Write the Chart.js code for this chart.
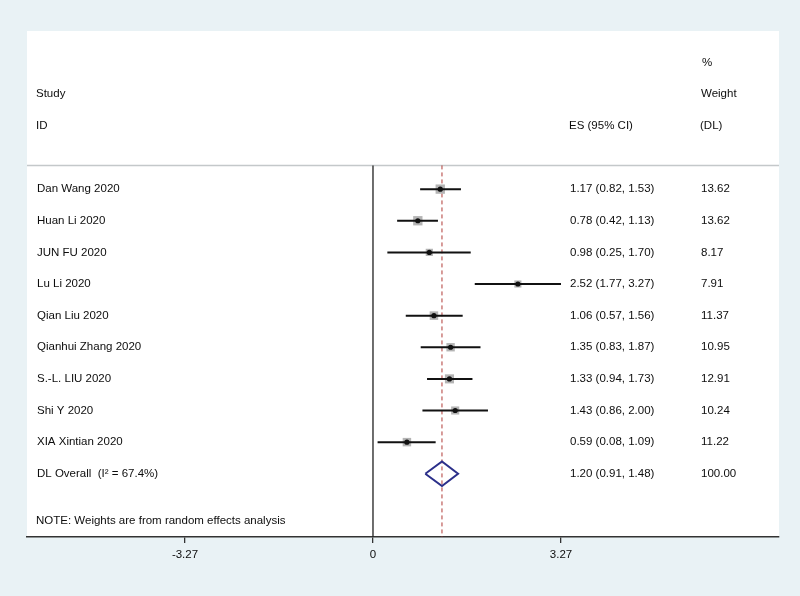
<!DOCTYPE html>
<html>
<head>
<meta charset="utf-8">
<script src="https://cdn.jsdelivr.net/npm/chart.js@4/dist/chart.umd.min.js"></script>
<style>
  html, body { margin: 0; padding: 0; background: #e9f2f5; }
</style>
</head>
<body>
<canvas id="forestChart" width="800" height="596"></canvas>
<script>
// Study data
const studies = ['Dan Wang 2020', 'Huan Li 2020', 'JUN FU 2020', 'Lu Li 2020', 'Qian Liu 2020',
    'Qianhui Zhang 2020', 'S.-L. LIU 2020', 'Shi Y 2020', 'XIA Xintian 2020'];
const es = [1.17, 0.78, 0.98, 2.52, 1.06, 1.35, 1.33, 1.43, 0.59];
const lower = [0.82, 0.42, 0.25, 1.77, 0.57, 0.83, 0.94, 0.86, 0.08];
const upper = [1.53, 1.13, 1.70, 3.27, 1.56, 1.87, 1.73, 2.00, 1.09];
const weights = [13.62, 13.62, 8.17, 7.91, 11.37, 10.95, 12.91, 10.24, 11.22];

// Pooled estimate
const overallLabel = 'DL Overall  (I\u00B2 = 67.4%)';
const overallEs = 1.20;
const overallLower = 0.91;
const overallUpper = 1.48;
const overallWeight = 100.00;

// Axis ticks
const tickValues = [-3.27, 0, 3.27];
const tickLabels = ['-3.27', '0', '3.27'];

const noteText = 'NOTE: Weights are from random effects analysis';

const overallRow = studies.length;
const yTop = -5, yBottom = 11, headerLine = -0.75;
const font = '11.5px "Liberation Sans", Arial, sans-serif';

function fmt(v) { return v.toFixed(2); }

// one dataset per CI line
let ciSets = studies.map((s, i) => ({
    data: [{ x: lower[i], y: i }, { x: upper[i], y: i }],
    showLine: true,
    borderColor: '#111',
    borderWidth: 2,
    pointRadius: 0,
    order: 3
}));

let datasets = ciSets.concat([
    {
        // weight boxes
        data: es.map((v, i) => ({ x: v, y: i })),
        pointStyle: 'rect',
        pointRadius: ctx => 6.6 * Math.sqrt(weights[ctx.dataIndex] / 13.62),
        backgroundColor: '#b4b4b4',
        borderWidth: 0,
        order: 4
    },
    {
        // point estimates
        data: es.map((v, i) => ({ x: v, y: i })),
        pointStyle: 'circle',
        pointRadius: 2.6,
        backgroundColor: '#111',
        borderWidth: 0,
        order: 1
    },
    {
        // pooled diamond
        data: [
            { x: overallLower, y: overallRow },
            { x: overallEs, y: overallRow - 0.39 },
            { x: overallUpper, y: overallRow },
            { x: overallEs, y: overallRow + 0.39 },
            { x: overallLower, y: overallRow }
        ],
        showLine: true,
        borderColor: '#2b2f8a',
        borderWidth: 2,
        borderJoinStyle: 'miter',
        pointRadius: 0,
        order: 0
    },
    {
        // line of no effect
        data: [{ x: 0, y: headerLine }, { x: 0, y: yBottom }],
        showLine: true,
        borderColor: '#222',
        borderWidth: 1.3,
        pointRadius: 0,
        order: 5
    },
    {
        // overall effect line
        data: [{ x: overallEs, y: headerLine }, { x: overallEs, y: yBottom }],
        showLine: true,
        borderColor: '#b03a35',
        borderWidth: 1,
        borderDash: [4, 3],
        pointRadius: 0,
        order: 6
    }
]);

const panelPlugin = {
    id: 'panel',
    beforeDraw(chart) {
        const { ctx, chartArea, scales } = chart;
        ctx.save();
        ctx.fillStyle = '#e9f2f5';
        ctx.fillRect(0, 0, chart.width, chart.height);
        ctx.fillStyle = '#ffffff';
        ctx.fillRect(chartArea.left, chartArea.top, chartArea.right - chartArea.left, chartArea.bottom - chartArea.top);
        // header separator
        let hy = Math.round(scales.y.getPixelForValue(headerLine)) + 0.5;
        ctx.strokeStyle = '#c4c8ca';
        ctx.lineWidth = 1.5;
        ctx.beginPath();
        ctx.moveTo(chartArea.left, hy);
        ctx.lineTo(chartArea.right, hy);
        ctx.stroke();
        ctx.restore();
    },
    afterDraw(chart) {
        const { ctx, scales } = chart;
        const y = v => scales.y.getPixelForValue(v);
        ctx.save();
        ctx.font = font;
        ctx.fillStyle = '#0d0d0d';
        ctx.textBaseline = 'middle';
        ctx.textAlign = 'left';

        // header
        ctx.fillText('%', 702, y(-4));
        ctx.fillText('Study', 36, y(-3));
        ctx.fillText('Weight', 701, y(-3));
        ctx.fillText('ID', 36, y(-2));
        ctx.fillText('ES (95% CI)', 569, y(-2));
        ctx.fillText('(DL)', 700, y(-2));

        studies.forEach((s, i) => {
            ctx.fillText(s, 37, y(i));
            ctx.fillText(fmt(es[i]) + ' (' + fmt(lower[i]) + ', ' + fmt(upper[i]) + ')', 570, y(i));
            ctx.fillText(fmt(weights[i]), 701, y(i));
        });

        ctx.fillText(overallLabel, 37, y(overallRow));
        ctx.fillText(fmt(overallEs) + ' (' + fmt(overallLower) + ', ' + fmt(overallUpper) + ')', 570, y(overallRow));
        ctx.fillText(fmt(overallWeight), 701, y(overallRow));

        ctx.fillText(noteText, 36, y(10.5));
        ctx.restore();
    }
};

let ctx = document.getElementById('forestChart').getContext('2d');
window.forestChart = new Chart(ctx, {
    type: 'scatter',
    data: { datasets: datasets },
    options: {
        responsive: false,
        animation: false,
        layout: { padding: { left: 27, right: 21, top: 31, bottom: 0 } },
        scales: {
            x: {
                type: 'linear',
                min: -6.018,
                max: 7.062,
                afterFit(scale) { scale.height = 59; },
                afterBuildTicks(scale) {
                    scale.ticks = tickValues.map(v => ({ value: v }));
                },
                ticks: {
                    callback: (value, index) => tickLabels[index],
                    font: { family: '"Liberation Sans", Arial, sans-serif', size: 11.5 },
                    color: '#0d0d0d',
                    padding: 5,
                    maxRotation: 0,
                    autoSkip: false
                },
                grid: {
                    drawOnChartArea: false,
                    drawTicks: true,
                    tickLength: 6,
                    color: '#333',
                    lineWidth: 1.3
                },
                border: { display: true, color: '#333', width: 1.5 }
            },
            y: {
                type: 'linear',
                display: false,
                reverse: true,
                min: yTop,
                max: yBottom
            }
        },
        plugins: {
            legend: { display: false },
            tooltip: { enabled: false }
        }
    },
    plugins: [panelPlugin]
});
</script>
</body>
</html>
